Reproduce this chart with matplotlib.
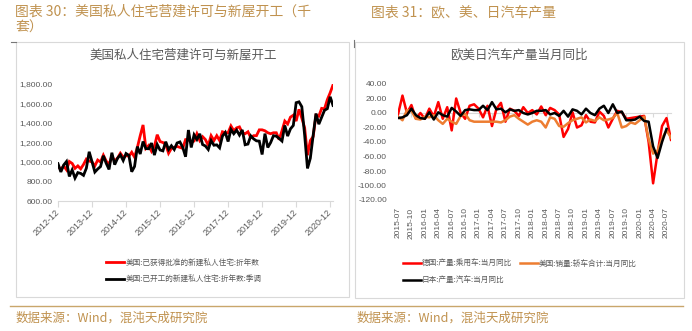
import matplotlib
matplotlib.use("Agg")
import matplotlib.pyplot as plt
from matplotlib.patches import Rectangle
from matplotlib.lines import Line2D
import pandas as pd

plt.rcParams['font.family'] = ['Liberation Sans', 'Noto Sans CJK SC', 'DejaVu Sans']
CJK = ['Noto Sans CJK SC', 'DejaVu Sans']

# ---- US permits / housing starts, monthly 2012-12 .. 2021-01 (thousand units, SAAR)
housing_months = pd.date_range('2012-12-01', periods=98, freq='MS')
permits = [955,
           925, 960, 920, 1005, 985, 935, 960, 930, 975, 1030, 1010, 1000,
           960, 1020, 1000, 1070, 1010, 975, 1060, 1010, 1040, 1090, 1050, 1065,
           1060, 1100, 1050, 1150, 1270, 1380, 1140, 1170, 1110, 1160, 1280, 1210,
           1200, 1180, 1090, 1140, 1150, 1160, 1150, 1140, 1230, 1230, 1200, 1215,
           1290, 1220, 1260, 1230, 1170, 1270, 1220, 1270, 1220, 1310, 1300, 1300,
           1370, 1320, 1350, 1360, 1300, 1290, 1310, 1250, 1270, 1270, 1330, 1330,
           1320, 1300, 1290, 1300, 1300, 1230, 1320, 1420, 1390, 1460, 1480, 1420,
           1540, 1450, 1350, 1070, 1220, 1260, 1480, 1470, 1550, 1545, 1640, 1710,
           1790]
starts = [983,
          898, 969, 1005, 852, 919, 835, 891, 883, 863, 936, 1105, 1003,
          897, 928, 953, 1064, 987, 924, 1095, 973, 1038, 1074, 1015, 1087,
          1068, 900, 954, 1158, 1082, 1210, 1137, 1136, 1194, 1071, 1179, 1123,
          1114, 1208, 1128, 1167, 1128, 1195, 1206, 1150, 1054, 1328, 1149, 1279,
          1231, 1289, 1179, 1164, 1128, 1220, 1172, 1176, 1145, 1265, 1303, 1210,
          1334, 1290, 1327, 1276, 1329, 1177, 1184, 1268, 1237, 1217, 1214, 1077,
          1291, 1149, 1199, 1270, 1265, 1241, 1215, 1375, 1266, 1340, 1375, 1608,
          1617, 1567, 1276, 934, 1038, 1273, 1497, 1388, 1459, 1530, 1547, 1669,
          1580]
housing_labels = ['美国:已获得批准的新建私人住宅:折年数',
                  '美国:已开工的新建私人住宅:折年数:季调']

# ---- car output yoy (%), monthly 2015-07 .. 2020-08
car_months = pd.date_range('2015-07-01', periods=62, freq='MS')
germany = [-2, 24, 0, 11, -8, 0, -8, 6, -5, 15,
           -8, 8, -24, 20, 0, -8, 10, 12, 6, -6,
           10, -18, 6, 14, -12, 6, 3, -4, 8, 0,
           4, -2, 9, -3, 7, 4, -2, -33, -22, 1,
           -20, -17, -3, -12, -13, 2, -4, -20, -8, 3,
           1, -8, -7, -6, -5, -4, -40, -97, -55, -18,
           -7, -37]
usa = [-5, -10, 4, 3, -8, -9, -5, -6, -3, -10,
       -15, -8, -12, -15, -4, -1, -10, -12, -12, -12,
       -12, -12, -12, -13, -10, -5, -3, -8, -12, -16,
       -12, -10, -12, -20, -6, -8, -18, -19, -14, -10,
       -8, -6, -13, -9, -11, -6, -10, -9, -7, 0,
       -20, -18, -13, -15, -10, -5, -36, -56, -52, -35,
       -24, -34]
japan = [-7, -6, -3, 6, -3, -7, -8, 1, -9, 1,
         -3, -5, 7, 2, -4, 4, 5, 4, 4, 10,
         4, 15, 5, 6, 1, 5, 3, 4, 0, -2,
         0, 3, 3, 4, -2, 0, -4, 3, -5, 5,
         3, -2, 6, 0, -3, 6, 10, 0, 12, 0,
         2, -10, -10, -9, -5, -11, -12, -46, -62, -40,
         -22]
car_labels = ['德国:产量:乘用车:当月同比', '美国:销量:轿车合计:当月同比',
              '日本:产量:汽车:当月同比']

W, H = 692, 331
GOLD = '#C0924F'
GREY = '#595959'
EDGE = '#D9D9D9'


def fx(x):
    return x / W


def fy(y):
    return 1 - y / H


fig = plt.figure(figsize=(W / 100, H / 100), dpi=100)

# frames around the two charts
fig.patches.append(Rectangle((fx(16), fy(297)), fx(349 - 16), (297 - 42) / H,
                             transform=fig.transFigure, fill=False, ec=EDGE, lw=0.8))
fig.patches.append(Rectangle((fx(355), fy(298)), fx(684 - 355), (298 - 42) / H,
                             transform=fig.transFigure, fill=False, ec=EDGE, lw=0.8))
fig.lines.append(Line2D([fx(11), fx(16)], [fy(42), fy(42)], transform=fig.transFigure,
                        color='#777777', lw=0.8))
fig.lines.append(Line2D([fx(354), fx(354)], [fy(40), fy(47)], transform=fig.transFigure,
                        color='#777777', lw=0.8))
fig.lines.append(Line2D([fx(10), fx(683)], [fy(306), fy(306)], transform=fig.transFigure,
                        color='#C9A66B', lw=1.0))

# headings and sources
fig.text(fx(15), fy(12), '图表 30：美国私人住宅营建许可与新屋开工（千', family=CJK,
         fontsize=10, color=GOLD, va='center')
fig.text(fx(15), fy(28), '套）', family=CJK, fontsize=10, color=GOLD, va='center')
fig.text(fx(371), fy(12), '图表 31：欧、美、日汽车产量', family=CJK,
         fontsize=10, color=GOLD, va='center')
for x0 in (16, 357):
    fig.text(fx(x0), fy(318), '数据来源：Wind，混沌天成研究院', family=CJK,
             fontsize=9, color=GOLD, va='center')

fig.text(fx(183), fy(55), '美国私人住宅营建许可与新屋开工', family=CJK,
         fontsize=9, color=GREY, ha='center', va='center')
fig.text(fx(519), fy(55), '欧美日汽车产量当月同比', family=CJK,
         fontsize=9, color=GREY, ha='center', va='center')

# ---- left chart
ax1 = fig.add_axes([fx(58), fy(201), fx(333 - 58), (201 - 84) / H])
x1 = range(len(housing_months))
h_red, = ax1.plot(x1, permits, color='#FF0000', lw=2.0, solid_joinstyle='miter')
h_blk, = ax1.plot(x1, starts, color='black', lw=2.0, solid_joinstyle='miter')
ax1.set_xlim(0, len(housing_months) - 1)
ax1.set_ylim(600, 1800)
ax1.set_yticks(range(600, 1801, 200))
ax1.set_yticklabels([f'{v:,.2f}' for v in range(600, 1801, 200)])
ax1.set_xticks(range(0, len(housing_months), 12))
ax1.set_xticklabels([d.strftime('%Y-%m') for d in housing_months[::12]],
                    rotation=45, ha='right', va='center', rotation_mode='anchor')
for s in ('top', 'right', 'left'):
    ax1.spines[s].set_visible(False)
ax1.spines['bottom'].set_color(EDGE)
ax1.tick_params(axis='y', length=0, pad=4, labelsize=6, labelcolor=GREY)
ax1.tick_params(axis='x', length=4, color=EDGE, pad=3, labelsize=6.5, labelcolor=GREY)
ax1.legend([h_red, h_blk], housing_labels, loc='center',
           bbox_to_anchor=(fx(184), fy(271)), bbox_transform=fig.transFigure,
           frameon=False, prop={'family': CJK, 'size': 5.5}, labelcolor=GREY,
           handlelength=2.3, handletextpad=0.2, labelspacing=1.1, borderpad=0)

# ---- right chart: category axis line sits on zero, labels stay at the bottom
ax2 = fig.add_axes([fx(398), fy(200), fx(671 - 398), (200 - 84) / H])
for s in ('top', 'right', 'left'):
    ax2.spines[s].set_visible(False)
ax2.spines['bottom'].set_position(('data', 0))
ax2.spines['bottom'].set_color(EDGE)
ax2.spines['bottom'].set_zorder(1)
x2 = range(len(car_months))
r_red, = ax2.plot(x2, germany, color='#FF0000', lw=1.8, zorder=2)
r_org, = ax2.plot(x2, usa, color='#ED7D31', lw=1.8, zorder=3)
r_blk, = ax2.plot(range(len(japan)), japan, color='black', lw=1.8, zorder=4)
ax2.set_xlim(0, len(car_months) - 1)
ax2.set_ylim(-120, 40)
ax2.set_yticks(range(-120, 41, 20))
ax2.set_yticklabels([f'{v:.2f}' for v in range(-120, 41, 20)])
ax2.set_xticks(range(0, len(car_months), 3))
ax2.set_xticklabels([d.strftime('%Y-%m') for d in car_months[::3]],
                    rotation=90, ha='center', va='top')
ax2.tick_params(axis='y', length=0, pad=8, labelsize=6, labelcolor=GREY)
ax2.tick_params(axis='x', length=3, color=EDGE, pad=65, labelsize=6, labelcolor=GREY)
ax2.legend([r_red, r_blk, r_org], [car_labels[0], car_labels[2], car_labels[1]],
           loc='center', ncol=2, bbox_to_anchor=(fx(520), fy(272)),
           bbox_transform=fig.transFigure, frameon=False,
           prop={'family': CJK, 'size': 5.5}, labelcolor=GREY,
           handlelength=2.3, handletextpad=0.2, labelspacing=1.1,
           columnspacing=1.0, borderpad=0)

fig.savefig('out.png', dpi=100)
